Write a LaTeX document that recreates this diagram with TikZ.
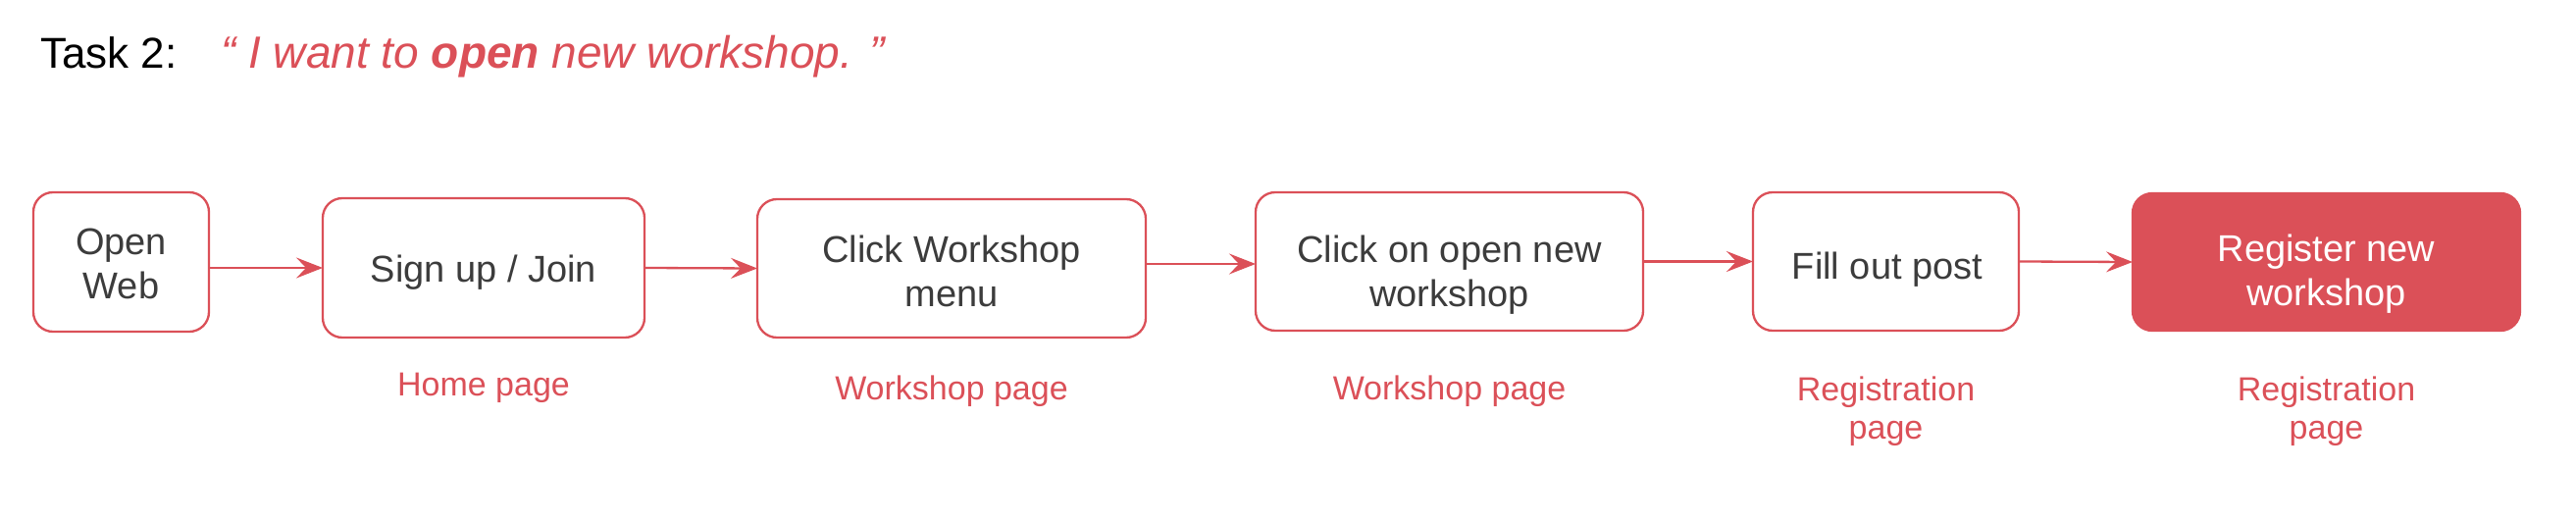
\documentclass[tikz,border=0pt]{standalone}
\usepackage{fontspec}
\setmainfont{Liberation Sans}
\usetikzlibrary{arrows.meta}
\definecolor{wred}{RGB}{219,80,88}
\definecolor{wtext}{RGB}{60,60,60}
\begin{document}
\begin{tikzpicture}[x=1pt,y=-1pt,
  stepbox/.style={draw=wred, line width=2.3pt, rounded corners=20pt, inner sep=0pt, outer sep=0pt, fill=white},
  donebox/.style={fill=wred, draw=wred, line width=2.3pt, rounded corners=20pt, inner sep=0pt, outer sep=0pt},
  boxtext/.style={inner sep=0pt, align=center, text=wtext, font=\fontsize{38}{45}\selectfont},
  pagetext/.style={inner sep=0pt, align=center, text=wred, font=\fontsize{34}{39}\selectfont},
  flow/.style={draw=wred, line width=2.3pt, -{Stealth[length=27pt,width=21pt,inset=10pt]}},
]
\useasboundingbox (0,0) rectangle (2626,532);

% title
\node[anchor=base west, inner sep=0pt, font=\fontsize{44}{50}\selectfont] (task) at (41,70) {Task 2:};
\node[anchor=base west, inner sep=0pt, text=wred, font=\fontsize{46}{52}\selectfont\itshape] (quote) at (225,70) {“ I want to \textbf{open} new workshop. ”};

% boxes
\node[stepbox, minimum width=179pt, minimum height=142pt] (open) at (123.5,267) {};
\node[stepbox, minimum width=328pt, minimum height=142pt] (signup) at (493,273) {};
\node[stepbox, minimum width=396pt, minimum height=141pt] (menu) at (970,273.5) {};
\node[stepbox, minimum width=395pt, minimum height=141pt] (newws) at (1477.5,266.5) {};
\node[stepbox, minimum width=271pt, minimum height=141pt] (fill) at (1922.5,266.5) {};
\node[donebox, minimum width=395pt, minimum height=140pt] (reg) at (2371.5,267) {};

% box texts
\node[boxtext, anchor=north] (openT) at (123.5,233) {Open\\Web};
\node[boxtext, anchor=base] (signupT) at (493,287) {Sign up / Join};
\node[boxtext, anchor=north] (menuT) at (970,239.3) {Click Workshop\\menu};
\node[boxtext, anchor=north] (newwsT) at (1477.5,239.3) {Click on open new\\workshop};
\node[boxtext, anchor=base] (fillT) at (1924,284) {Fill out post};
\node[boxtext, anchor=north, text=white] (regT) at (2371.5,238.8) {Register new\\workshop};

% page labels
\node[pagetext, anchor=base] (homeL) at (493,403) {Home page};
\node[pagetext, anchor=base] (menuL) at (970,407) {Workshop page};
\node[pagetext, anchor=base] (newwsL) at (1477.5,407) {Workshop page};
\node[pagetext, anchor=north] (fillL) at (1922.5,383.7) {Registration\\page};
\node[pagetext, anchor=north] (regL) at (2371.5,383.7) {Registration\\page};

% connectors
\coordinate (m3) at (0,269);
\draw[flow] (open.east |- signup.west) -- (signup.west);
\draw[flow] (signup.east) -- (menu.west);
\draw[flow] (menu.east |- m3) -- (newws.west |- m3);
\draw[flow] (newws.east) -- (fill.west);
\draw[flow] (fill.east) -- (reg.west);
\end{tikzpicture}
\end{document}
